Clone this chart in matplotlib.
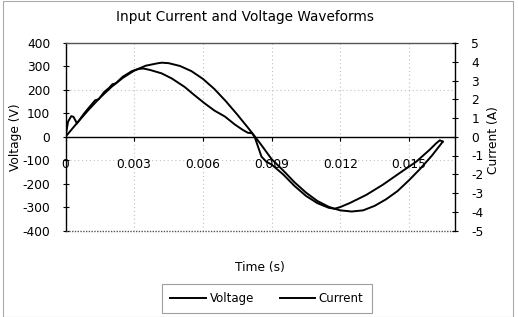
import matplotlib
matplotlib.use("Agg")
import matplotlib.pyplot as plt
from matplotlib.patches import Rectangle
from matplotlib.lines import Line2D

plt.rcParams['font.family'] = ['DejaVu Sans']
plt.rcParams['axes.unicode_minus'] = False

title = "Input Current and Voltage Waveforms"
x_label = "Time (s)"
y_label_left = "Voltage (V)"
y_label_right = "Current (A)"

x_ticks = [0, 0.003, 0.006, 0.009, 0.012, 0.015]
x_tick_labels = ["0", "0.003", "0.006", "0.009", "0.012", "0.015"]
v_ticks = [-400, -300, -200, -100, 0, 100, 200, 300, 400]
i_ticks = [-5, -4, -3, -2, -1, 0, 1, 2, 3, 4, 5]

# Voltage series (s, V)
t_voltage = [0.0, 0.0005, 0.001, 0.0015, 0.002, 0.0025, 0.003, 0.0035, 0.004,
             0.0042, 0.0045, 0.005, 0.0055, 0.006, 0.0065, 0.007, 0.0075, 0.008,
             0.0085, 0.009, 0.0095, 0.010, 0.0105, 0.011, 0.0115, 0.01175, 0.012,
             0.0125, 0.013, 0.0135, 0.014, 0.0145, 0.015, 0.0155, 0.016, 0.01648]
voltage = [0, 58, 114, 166, 212, 251, 282, 303, 313,
           316, 314, 302, 280, 247, 204, 152, 95, 35,
           -28, -95, -143, -194, -238, -274, -299, -307, -314,
           -319, -314, -295, -267, -232, -186, -136, -81, -21]

# Current series (s, A)
t_current = [0.0, 0.00011, 0.00025, 0.00035, 0.0005, 0.0008, 0.001, 0.0013,
             0.00145, 0.0017, 0.0019, 0.00205, 0.0022, 0.0025, 0.0029, 0.0032,
             0.0034, 0.0037, 0.0042, 0.00464, 0.0052, 0.0056, 0.00608, 0.0065,
             0.00696, 0.0074, 0.00775, 0.00797, 0.00815, 0.00826, 0.00856,
             0.00877, 0.009, 0.0095, 0.010, 0.0105, 0.011, 0.0115, 0.01175,
             0.012, 0.01241, 0.01314, 0.01386, 0.01459, 0.01532, 0.0159,
             0.01619, 0.01635, 0.01648]
current = [0.0, 0.8, 1.1, 1.06, 0.71, 1.22, 1.52, 1.95,
           2.0, 2.4, 2.6, 2.8, 2.85, 3.2, 3.5, 3.62,
           3.64, 3.56, 3.38, 3.11, 2.66, 2.25, 1.78, 1.4,
           1.08, 0.65, 0.36, 0.21, 0.19, 0.0, -1.06,
           -1.33, -1.48, -2.0, -2.62, -3.15, -3.54, -3.79, -3.84,
           -3.75, -3.54, -3.1, -2.56, -1.94, -1.33, -0.7,
           -0.35, -0.19, -0.26]

W, H = 518, 317
fig = plt.figure(figsize=(W / 100, H / 100), dpi=100)
fig.patch.set_facecolor('white')

x0, x1 = 65.5, 454.7
y0, y1 = 43.0, 230.5
ax = fig.add_axes([x0 / W, 1 - y1 / H, (x1 - x0) / W, (y1 - y0) / H])
ax2 = ax.twinx()

ax.set_xlim(0, 0.017)
ax.set_ylim(-400, 400)
ax2.set_ylim(-5, 5)

grid_kw = dict(color='#c0c0c0', lw=0.8, linestyle=(0, (1, 2.5)), zorder=0)
for xv in x_ticks[1:]:
    ax.axvline(xv, **grid_kw)
for yv in [200, -100]:
    ax.axhline(yv, **grid_kw)

ax.plot(t_voltage, voltage, color='black', lw=1.4, zorder=3)
ax2.plot(t_current, current, color='black', lw=1.4, zorder=3)

# spines
ax.spines['bottom'].set_position(('data', 0))
ax.spines['bottom'].set_color('black')
ax.spines['bottom'].set_linewidth(1.0)
ax.spines['left'].set_linewidth(1.0)
ax.spines['right'].set_visible(False)
ax.spines['top'].set_color('#555555')
ax.spines['top'].set_linestyle((0, (1, 1)))
ax.spines['top'].set_linewidth(1.0)
ax.plot([0, 0.017], [-400, -400], color='#555555', lw=1.0,
        linestyle=(0, (1, 1)), clip_on=False, zorder=4)

for s in ['top', 'bottom', 'left']:
    ax2.spines[s].set_visible(False)
ax2.spines['right'].set_linewidth(1.0)

ax.set_xticks(x_ticks)
ax.set_xticklabels(x_tick_labels)
ax.set_yticks(v_ticks)
ax2.set_yticks(i_ticks)

ax.tick_params(axis='x', direction='out', length=3, width=0.8, pad=12,
               labelsize=8.8, colors='black')
ax.tick_params(axis='y', direction='inout', length=4, width=0.8, pad=9,
               labelsize=8.8)
ax2.tick_params(axis='y', direction='inout', length=4, width=0.8, pad=10,
                labelsize=8.8)

fig.text(245 / W, 1 - 17 / H, title, ha='center', va='center', fontsize=9.8)
fig.text(260 / W, 1 - 268 / H, x_label, ha='center', va='center', fontsize=8.8)
fig.text(15 / W, 1 - 137 / H, y_label_left, ha='center', va='center',
         rotation=90, fontsize=8.8)
fig.text(494 / W, 1 - 140 / H, y_label_right, ha='center', va='center',
         rotation=90, fontsize=8.8)

handles = [Line2D([], [], color='black', lw=1.4),
           Line2D([], [], color='black', lw=1.4)]
leg = fig.legend(handles, ['Voltage', 'Current'], loc='center',
                 bbox_to_anchor=(267 / W, 1 - 298.5 / H), ncol=2,
                 frameon=True, fancybox=False, edgecolor='#888888',
                 handlelength=3.0, columnspacing=2.2, handletextpad=0.3,
                 fontsize=8.5, borderpad=0.7)
leg.get_frame().set_linewidth(0.8)

fig.patches.append(Rectangle((3 / W, 0.0), (513 - 3) / W, 316 / H,
                             transform=fig.transFigure, fill=False,
                             edgecolor='#aaaaaa', lw=0.8))

fig.savefig('out.png', dpi=100)
